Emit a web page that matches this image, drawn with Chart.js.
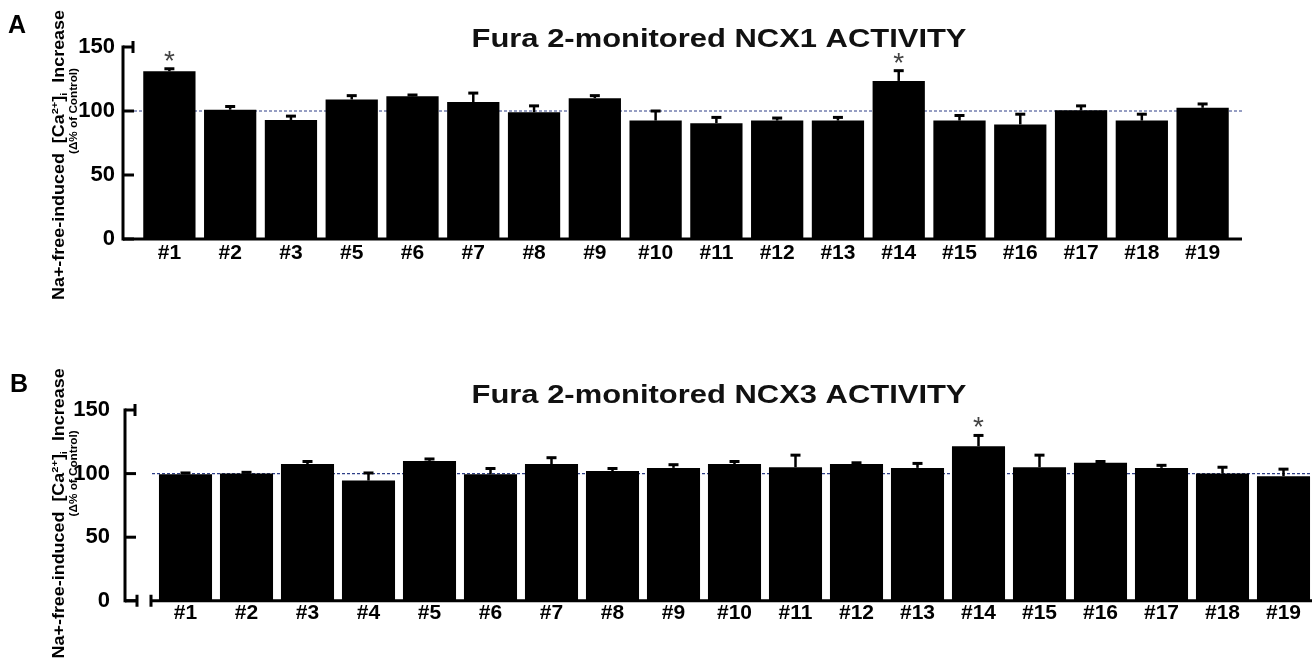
<!DOCTYPE html>
<html lang="en">
<head>
    <meta charset="utf-8" />
    <title>Fura 2-monitored NCX activity</title>
    <style>
        html,
        body {
            margin: 0;
            padding: 0;
            width: 1312px;
            height: 659px;
            overflow: hidden;
            background: #fff;
        }

        .panel {
            position: absolute;
            left: 0;
        }
    </style>
</head>
<body>
    <div class="panel" style="top:0"><canvas id="chartA" width="1312" height="330"></canvas></div>
    <div class="panel" style="top:330px"><canvas id="chartB" width="1320" height="329"></canvas></div>

    <script src="https://cdn.jsdelivr.net/npm/chart.js@4.4.3/dist/chart.umd.min.js"></script>
    <script>
        // panel A - NCX1 (no clone #4)
        const labelsA = ['#1', '#2', '#3', '#5', '#6', '#7', '#8', '#9', '#10', '#11', '#12', '#13', '#14', '#15', '#16', '#17', '#18', '#19'];
        const meansA = [131, 101, 93, 109, 111.5, 107, 99, 110, 92.5, 90.5, 92.5, 92.5, 123.5, 92.5, 89.5, 100.5, 92.5, 102.5];
        const errorsA = [2, 2.5, 3, 3, 1, 7, 5, 2, 7.5, 4.5, 2, 2.5, 8, 4, 8, 3.5, 5, 3];
        const starredA = ['#1', '#14'];

        // panel B - NCX3
        const labelsB = ['#1', '#2', '#3', '#4', '#5', '#6', '#7', '#8', '#9', '#10', '#11', '#12', '#13', '#14', '#15', '#16', '#17', '#18', '#19'];
        const meansB = [99.5, 100, 107.5, 94.5, 110, 99.5, 107.5, 102, 104.5, 107.5, 105, 107.5, 104.5, 121.5, 105, 108.5, 104.5, 100, 98];
        const errorsB = [1, 1, 2, 6, 1.5, 4.5, 5, 2, 2.5, 2, 9.5, 1, 3.5, 8.5, 9.5, 1, 2, 5, 5.5];
        const starredB = ['#14'];

        const yTicks = [0, 50, 100, 150];
        const controlLevel = 100;

        const FONT = '"Liberation Sans", Arial, Helvetica, sans-serif';

        // draws a list of text runs (for super/subscripts), squeezed/stretched to a given length
        function drawRuns(ctx, runs, size, cx, cy, length, rotate) {
            ctx.save();
            ctx.translate(cx, cy);
            if (rotate) {
                ctx.rotate(-Math.PI / 2);
            }
            let total = 0;
            runs.forEach(r => {
                ctx.font = `bold ${size * (r.scale || 1)}px ${FONT}`;
                r.w = ctx.measureText(r.text).width;
                total += r.w;
            });
            ctx.scale(length / total, 1);
            ctx.fillStyle = '#000';
            ctx.textAlign = 'left';
            ctx.textBaseline = 'alphabetic';
            let x = -total / 2;
            runs.forEach(r => {
                ctx.font = `bold ${size * (r.scale || 1)}px ${FONT}`;
                ctx.fillText(r.text, x, size * 0.36 + (r.dy || 0) * size);
                x += r.w;
            });
            ctx.restore();
        }

        const panelDecor = {
            id: 'panelDecor',
            beforeDatasetsDraw(chart, args, opts) {
                const ctx = chart.ctx;
                const y = chart.scales.y.getPixelForValue(controlLevel);
                ctx.save();
                ctx.strokeStyle = '#2e3f88';
                ctx.lineWidth = 1.2;
                ctx.setLineDash([3, 2]);
                ctx.beginPath();
                ctx.moveTo(opts.refFrom, y);
                ctx.lineTo(opts.refTo, y);
                ctx.stroke();
                ctx.restore();
            },
            afterDatasetsDraw(chart, args, opts) {
                const ctx = chart.ctx;
                const yScale = chart.scales.y;
                const meta = chart.getDatasetMeta(0);
                const labels = chart.data.labels;

                ctx.save();
                ctx.strokeStyle = '#000';

                // upper error whiskers
                meta.data.forEach((bar, i) => {
                    const top = yScale.getPixelForValue(opts.means[i] + opts.errors[i]);
                    ctx.lineWidth = 2.5;
                    ctx.beginPath();
                    ctx.moveTo(bar.x, bar.y);
                    ctx.lineTo(bar.x, top);
                    ctx.stroke();
                    ctx.lineWidth = 3;
                    ctx.beginPath();
                    ctx.moveTo(bar.x - 5, top);
                    ctx.lineTo(bar.x + 5, top);
                    ctx.stroke();

                    if (opts.starred.includes(labels[i])) {
                        ctx.fillStyle = '#444';
                        ctx.font = `28px ${FONT}`;
                        ctx.textAlign = 'center';
                        ctx.textBaseline = 'alphabetic';
                        ctx.fillText('*', bar.x, top + 1);
                    }
                });

                // Prism-style axes
                const ax = opts.axisX;
                const y0 = yScale.getPixelForValue(0);
                const yTop = yScale.getPixelForValue(150);
                ctx.lineWidth = 3;
                ctx.beginPath();
                ctx.moveTo(ax, yTop - 1.5);
                ctx.lineTo(ax, y0 + 1.5);
                ctx.stroke();
                yTicks.forEach(v => {
                    const py = yScale.getPixelForValue(v);
                    ctx.beginPath();
                    ctx.moveTo(ax, py);
                    ctx.lineTo(ax + 11, py);
                    ctx.stroke();
                });
                ctx.beginPath();
                ctx.moveTo(ax + 10, yTop - 6);
                ctx.lineTo(ax + 10, yTop + 6);
                ctx.stroke();

                if (opts.axisBreak) {
                    const [b1, b2] = opts.axisBreak;
                    ctx.beginPath();
                    ctx.moveTo(ax, y0);
                    ctx.lineTo(b1, y0);
                    ctx.moveTo(b1, y0 - 6);
                    ctx.lineTo(b1, y0 + 6);
                    ctx.moveTo(b2, y0 - 6);
                    ctx.lineTo(b2, y0 + 6);
                    ctx.moveTo(b2, y0);
                    ctx.lineTo(opts.xAxisEnd, y0);
                    ctx.stroke();
                } else {
                    ctx.beginPath();
                    ctx.moveTo(ax, y0);
                    ctx.lineTo(opts.xAxisEnd, y0);
                    ctx.stroke();
                }
                ctx.restore();
            },
            afterDraw(chart, args, opts) {
                const ctx = chart.ctx;
                const area = chart.chartArea;
                const mid = (area.top + area.bottom) / 2;

                ctx.save();
                ctx.fillStyle = '#000';
                ctx.font = `bold 25px ${FONT}`;
                ctx.textAlign = 'left';
                ctx.textBaseline = 'alphabetic';
                ctx.fillText(opts.letter, opts.letterX, opts.letterY);

                // title, stretched to the width of the original
                ctx.font = `bold 26px ${FONT}`;
                const w = ctx.measureText(opts.title).width;
                ctx.translate(719, opts.titleY);
                ctx.scale(495 / w, 1);
                ctx.fillStyle = '#111';
                ctx.textAlign = 'center';
                ctx.fillText(opts.title, 0, 0);
                ctx.restore();

                // y axis title (two rotated lines)
                drawRuns(ctx, [
                    { text: 'Na+-free-induced  [Ca' },
                    { text: '2+', scale: 0.62, dy: -0.38 },
                    { text: ']' },
                    { text: 'i', scale: 0.62, dy: 0.18 },
                    { text: '  Increase' }
                ], 16, 58, mid + opts.titleShift, 290, true);
                drawRuns(ctx, [{ text: '(\u0394% of Control)' }], 11, 73, mid - 32, 86, true);
            }
        };

        function makeChart(canvasId, labels, means, cfg) {
            return new Chart(document.getElementById(canvasId), {
                type: 'bar',
                data: {
                    labels: labels,
                    datasets: [{
                        data: means,
                        backgroundColor: '#000',
                        borderWidth: 0,
                        barPercentage: cfg.barPercentage,
                        categoryPercentage: 1
                    }]
                },
                options: {
                    responsive: false,
                    animation: false,
                    events: [],
                    layout: {
                        padding: { left: 0, right: cfg.padRight, top: cfg.padTop, bottom: 0 }
                    },
                    plugins: {
                        legend: { display: false },
                        tooltip: { enabled: false },
                        title: { display: false },
                        panelDecor: cfg.decor
                    },
                    scales: {
                        x: {
                            type: 'category',
                            offset: true,
                            grid: { display: false, drawTicks: false },
                            border: { display: false },
                            ticks: {
                                color: '#000',
                                font: { family: FONT, size: 21, weight: 'bold' },
                                padding: cfg.xPad,
                                maxRotation: 0,
                                autoSkip: false
                            },
                            afterFit: s => { s.height = cfg.xHeight; }
                        },
                        y: {
                            min: 0,
                            max: 150,
                            grid: { display: false, drawTicks: false },
                            border: { display: false },
                            afterBuildTicks: s => { s.ticks = yTicks.map(v => ({ value: v })); },
                            ticks: {
                                color: '#000',
                                font: { family: FONT, size: 22, weight: 'bold' },
                                padding: cfg.yPad
                            },
                            afterFit: s => { s.width = cfg.yWidth; }
                        }
                    }
                },
                plugins: [panelDecor]
            });
        }

        makeChart('chartA', labelsA, meansA, {
            barPercentage: 0.86,
            padRight: 79,
            padTop: 47,
            xHeight: 91,
            xPad: 2,
            yWidth: 139,
            yPad: 24,
            decor: {
                means: meansA,
                errors: errorsA,
                starred: starredA,
                letter: 'A',
                letterX: 8,
                letterY: 33,
                title: 'Fura 2-monitored NCX1 ACTIVITY',
                titleY: 47,
                titleShift: 12,
                axisX: 123,
                xAxisEnd: 1242,
                axisBreak: null,
                refFrom: 124,
                refTo: 1242
            }
        });

        makeChart('chartB', labelsB, meansB, {
            barPercentage: 0.87,
            padRight: 6,
            padTop: 80,
            xHeight: 55,
            xPad: 0,
            yWidth: 155,
            yPad: 45,
            decor: {
                means: meansB,
                errors: errorsB,
                starred: starredB,
                letter: 'B',
                letterX: 10,
                letterY: 62,
                title: 'Fura 2-monitored NCX3 ACTIVITY',
                titleY: 73,
                titleShift: 8,
                axisX: 125,
                xAxisEnd: 1320,
                axisBreak: [137, 151],
                refFrom: 152,
                refTo: 1320
            }
        });
    </script>
</body>
</html>
